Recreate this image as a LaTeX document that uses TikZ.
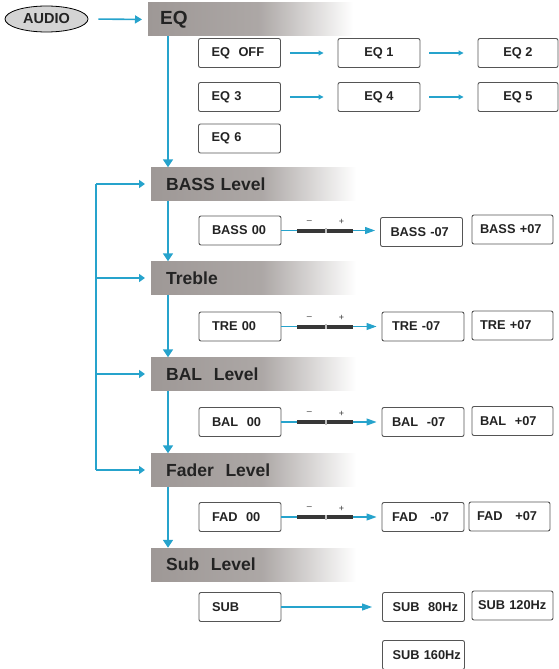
\documentclass[tikz,border=0pt]{standalone}
\usepackage{fontspec}
\setmainfont{Liberation Sans}
\usetikzlibrary{arrows.meta,shapes.geometric}

\definecolor{menucyan}{RGB}{38,163,204}
\definecolor{bandgray}{RGB}{158,152,150}
\definecolor{boxline}{RGB}{85,85,85}
\definecolor{bartone}{RGB}{55,55,55}
\definecolor{headtext}{RGB}{35,35,35}
\pgfdeclarehorizontalshading{bandfade}{100bp}{color(0bp)=(bandgray); color(25bp)=(bandgray); color(52bp)=(bandgray!85!white); color(75bp)=(white); color(100bp)=(white)}

\newcommand{\slidebar}[3]{%
\draw[stepline] (#1.east) -- (#1.east -| #2.west);
\draw[barline] ([xshift=16pt]#1.east) -- ([xshift=72pt]#1.east);
\fill[black!25] ([xshift=44pt,yshift=-2.5pt]#1.east) rectangle ([xshift=46pt,yshift=2.5pt]#1.east);
\node[signtext] (#3minus) at ([xshift=28pt,yshift=8.5pt]#1.east) {--};
\node[signtext] (#3plus) at ([xshift=60pt,yshift=8.5pt]#1.east) {+};}

\begin{document}
\begin{tikzpicture}[x=1pt,y=-1pt,
  band/.style={shading=bandfade, anchor=west, minimum height=33pt, text width=175pt, inner xsep=15pt, inner ysep=0pt, align=left, text=headtext, font=\bfseries\fontsize{17.5}{17.5}\selectfont},
  box/.style={draw=boxline, line width=0.9pt, rounded corners=2pt, minimum height=29pt, inner ysep=0pt, text=headtext, font=\bfseries\fontsize{12.8}{12.8}\selectfont},
  colA/.style={box, text width=56pt, inner xsep=13pt, align=left},
  colB/.style={box, minimum width=82pt, align=center},
  colC/.style={box, text width=62pt, inner xsep=10pt, align=left},
  colD/.style={box, text width=65pt, inner xsep=8pt, align=left},
  audiobox/.style={ellipse, draw=black, line width=0.8pt, fill=black!17, minimum width=83pt, minimum height=26pt, inner sep=0pt, text=headtext, font=\bfseries\fontsize{14.5}{14.5}\selectfont},
  mainlink/.style={draw=menucyan, line width=1.7pt, -{Triangle[length=8pt,width=10pt]}},
  loopline/.style={draw=menucyan, line width=1.7pt},
  looparrow/.style={draw=menucyan, line width=1.7pt, shorten >=6pt, -{Triangle[length=6pt,width=8pt]}},
  audioarrow/.style={draw=menucyan, line width=1.6pt, shorten <=10pt, shorten >=6pt, -{Triangle[length=7pt,width=8pt]}},
  eqarrow/.style={draw=menucyan, line width=1.1pt, shorten <=9pt, shorten >=14pt, -{Triangle[length=5pt,width=5pt]}},
  stepline/.style={draw=menucyan, line width=1.1pt, shorten >=5pt, -{Triangle[length=10pt,width=7pt]}},
  barline/.style={draw=bartone, line width=4pt},
  signtext/.style={inner sep=0pt, text=bartone, font=\fontsize{9}{9}\selectfont}]
\useasboundingbox (0,0) rectangle (559,669);

\coordinate (spine) at (168,0);
\coordinate (loop) at (96,0);

\node[audiobox] (audio) at (46.5,19) {AUDIO};
\node[band, inner xsep=12pt, text width=181pt, font=\bfseries\fontsize{19}{19}\selectfont] (eq) at (148,19.5) {EQ};
\node[band] (bass) at (151,184) {BASS Level};
\node[band] (treble) at (151,278) {Treble};
\node[band] (bal) at (151,374) {BAL~~Level};
\node[band] (fader) at (151,470) {Fader~~Level};
\node[band] (sub) at (151,564.5) {Sub~~Level};

\node[colA] (eqoff) at (239.5,53) {EQ~~OFF};
\node[colB] (eq1) at (379,53) {EQ~1};
\node[colB, minimum width=80pt] (eq2) at (518,53) {EQ~2};
\node[colA] (eq3) at (239.5,97) {EQ~3};
\node[colB] (eq4) at (379,97) {EQ~4};
\node[colB, minimum width=80pt] (eq5) at (518,97) {EQ~5};
\node[colA] (eq6) at (239.5,138.5) {EQ~6};

\node[colA] (bass00) at (240,230.5) {BASS~00};
\node[colC] (bassdown) at (421.5,232) {BASS~-07};
\node[colD] (bassup) at (512.5,229.5) {BASS~+07};
\node[colA] (tre00) at (240,326.5) {TRE~00};
\node[colC] (tredown) at (423,326.5) {TRE~-07};
\node[colD] (treup) at (512.5,325.5) {TRE~+07};
\node[colA] (bal00) at (240,422) {BAL~~00};
\node[colC] (baldown) at (423,422) {BAL~~-07};
\node[colD] (balup) at (512.5,421) {BAL~~+07};
\node[colA] (fad00) at (240,517) {FAD~~00};
\node[colC] (faddown) at (423,517) {FAD~~~-07};
\node[colD] (fadup) at (509.5,516.5) {FAD~~~+07};
\node[colA] (subbox) at (240,607) {SUB};
\node[colC] (sub80) at (423.5,607) {SUB~~80Hz};
\node[colD, inner xsep=6pt, text width=69pt] (sub120) at (512.5,605.5) {SUB~120Hz};
\node[colC] (sub160) at (423.5,655) {SUB~160Hz};

\draw[audioarrow] (audio.east) -- (eq.west);
\foreach \a/\b in {eq/bass,bass/treble,treble/bal,bal/fader,fader/sub}
  \draw[mainlink] (spine |- \a.south) -- (spine |- \b.north);
\draw[loopline] (loop |- bass.west) -- (loop |- fader.west);
\foreach \h in {bass,treble,bal,fader}
  \draw[looparrow] (loop |- \h.west) -- (\h.west);

\draw[eqarrow] (eqoff) -- (eq1);
\draw[eqarrow] (eq1) -- (eq2);
\draw[eqarrow] (eq3) -- (eq4);
\draw[eqarrow] (eq4) -- (eq5);

\slidebar{bass00}{bassdown}{bass}
\slidebar{tre00}{tredown}{tre}
\slidebar{bal00}{baldown}{bal}
\slidebar{fad00}{faddown}{fad}
\draw[stepline, shorten >=10pt] (subbox.east) -- (subbox.east -| sub80.west);
\end{tikzpicture}
\end{document}
